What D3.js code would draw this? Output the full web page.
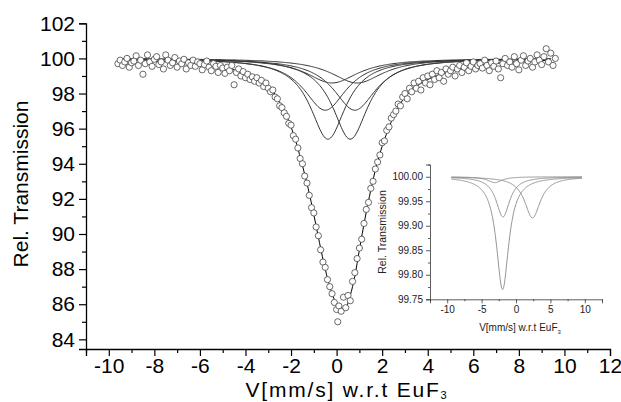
<!DOCTYPE html>
<html>
<head>
<meta charset="utf-8">
<script src="https://cdn.jsdelivr.net/npm/d3@7/dist/d3.min.js"></script>
<style>
  body { margin: 0; background: #fff; }
  svg { display: block; font-family: Arial, "Liberation Sans", sans-serif; }
</style>
</head>
<body>
<svg id="chart"></svg>
<script>
const svgWidth = 621, svgHeight = 402;

// measured spectrum (velocity mm/s, rel. transmission %)
const dataV = [-9.6,-9.5,-9.4,-9.3,-9.2,-9.1,-9.0,-8.9,-8.8,-8.7,-8.6,-8.5,-8.4,-8.3,-8.2,-8.1,-8.0,-7.9,-7.8,-7.7,-7.6,-7.5,-7.4,-7.3,-7.2,-7.1,-7.0,-6.9,-6.8,-6.7,-6.6,-6.5,-6.4,-6.3,-6.2,-6.1,-6.0,-5.9,-5.8,-5.7,-5.6,-5.5,-5.4,-5.3,-5.2,-5.1,-5.0,-4.9,-4.8,-4.7,-4.6,-4.5,-4.4,-4.3,-4.2,-4.1,-4.0,-3.9,-3.8,-3.7,-3.6,-3.5,-3.4,-3.3,-3.2,-3.1,-3.0,-2.9,-2.8,-2.7,-2.6,-2.5,-2.4,-2.3,-2.2,-2.1,-2.0,-1.9,-1.8,-1.7,-1.6,-1.5,-1.4,-1.3,-1.2,-1.1,-1.0,-0.9,-0.8,-0.7,-0.6,-0.5,-0.4,-0.3,-0.2,-0.1,0.0,0.05,0.1,0.2,0.3,0.4,0.5,0.6,0.7,0.8,0.9,1.0,1.1,1.2,1.3,1.4,1.5,1.6,1.7,1.8,1.9,2.0,2.1,2.2,2.3,2.4,2.5,2.6,2.7,2.8,2.9,3.0,3.1,3.2,3.3,3.4,3.5,3.6,3.7,3.8,3.9,4.0,4.1,4.2,4.3,4.4,4.5,4.6,4.7,4.8,4.9,5.0,5.1,5.2,5.3,5.4,5.5,5.6,5.7,5.8,5.9,6.0,6.1,6.2,6.3,6.4,6.5,6.6,6.7,6.8,6.9,7.0,7.1,7.2,7.3,7.4,7.5,7.6,7.7,7.8,7.9,8.0,8.1,8.2,8.3,8.4,8.5,8.6,8.7,8.8,8.9,9.0,9.1,9.2,9.3,9.4,9.5,9.6];
const dataT = [99.7,99.9,99.6,99.8,100.0,99.5,99.75,99.85,100.15,99.6,99.9,99.1,99.7,100.2,99.8,99.55,99.95,100.1,99.65,99.8,99.4,100.2,99.9,99.6,99.75,100.05,99.5,99.85,99.7,99.95,99.4,99.75,99.6,99.9,99.55,99.8,99.7,99.35,99.65,99.85,99.5,99.3,99.7,99.55,99.2,99.6,99.45,99.15,99.5,99.3,99.6,98.5,99.2,99.4,99.0,99.25,98.9,99.1,98.8,98.95,98.7,98.9,98.6,98.75,98.4,98.6,98.3,98.1,98.2,97.8,97.7,97.3,97.2,96.9,96.7,96.3,96.2,95.6,95.4,94.9,94.3,94.0,93.3,92.9,92.2,91.5,91.2,90.4,89.9,89.1,88.4,88.1,87.4,87.0,86.6,86.1,85.7,85.0,85.9,85.6,86.4,85.8,86.5,86.2,87.3,87.8,88.6,89.2,89.7,90.6,91.4,91.8,92.6,93.0,93.7,94.1,94.5,95.2,95.3,95.9,96.1,96.6,96.8,97.0,97.4,97.3,97.8,98.0,97.7,98.3,98.1,98.6,98.3,98.7,98.2,98.9,98.6,99.0,98.5,99.1,98.8,99.3,98.9,99.2,98.7,99.4,99.1,99.3,99.5,99.0,99.4,99.6,99.2,99.5,99.75,99.3,99.55,99.8,99.4,99.6,99.7,99.45,99.9,99.6,99.3,99.75,99.55,99.85,99.4,98.9,99.7,100.0,99.6,99.8,99.5,100.1,99.7,99.35,99.9,100.15,99.6,99.85,100.0,99.5,99.8,100.2,99.9,99.65,100.1,100.55,99.8,100.3,99.6,100.0];

// total fit
const fitV = [-9.45,-8,-7,-6,-5,-4.5,-4,-3.5,-3,-2.5,-2,-1.75,-1.5,-1.25,-1,-0.75,-0.5,-0.25,0,0.2,0.4,0.6,0.8,1.0,1.25,1.5,1.75,2.0,2.25,2.5,3.0,3.5,4,5,6,7,8,9.4];
const fitT = [99.9,99.85,99.8,99.7,99.5,99.35,99.1,98.85,98.45,97.5,96.1,95.1,93.9,92.6,91.1,89.5,88.0,86.8,86.0,85.7,85.8,86.5,87.6,89.1,90.9,92.5,93.9,95.0,95.9,96.7,97.8,98.4,98.8,99.25,99.55,99.72,99.82,99.9];

// sub-spectra (Lorentzian lines): centre, depth, width
const subCentre = [-0.38, 0.6, -0.5, 0.8, -0.2, 0.9];
const subDepth  = [4.6, 4.6, 2.95, 2.95, 1.4, 1.4];
const subWidth  = [1.9, 1.9, 2.3, 2.3, 2.8, 2.8];
const subRange  = [-9.45, 9.4];

// inset sub-spectra
const insCentre = [-1.95, -1.9, 2.4, -3.1];
const insDepth  = [0.23, 0.082, 0.084, 0.012];
const insWidth  = [2.2, 2.4, 2.8, 2.5];
const insRange  = [-9.4, 9.6];

const xTicks = [-10,-8,-6,-4,-2,0,2,4,6,8,10,12];
const yTicks = [84,86,88,90,92,94,96,98,100,102];
const insXTicks = [-10,-5,0,5,10];
const insYTicks = [99.75,99.80,99.85,99.90,99.95,100.00];

const svg = d3.select("#chart").attr("width", svgWidth).attr("height", svgHeight);

const x = d3.scaleLinear().domain([-11, 12]).range([86, 610]);
const y = d3.scaleLinear().domain([83.45, 102]).range([349, 23.3]);

function lorentz(v, c, d, w) {
    const t = (v - c) / (w / 2);
    return d / (1 + t * t);
}

function gridFrom(r, n) {
    return d3.range(n + 1).map(i => r[0] + (r[1] - r[0]) * i / n);
}

// axes
const xAxis = d3.axisBottom(x).tickValues(xTicks).tickSize(7).tickPadding(2).tickFormat(d => String(d));
const gx = svg.append("g").attr("transform", `translate(0,${y.range()[0]})`).call(xAxis);
const xMinor = d3.axisBottom(x).tickValues([-11,-9,-7,-5,-3,-1,1,3,5,7,9,11]).tickSize(4).tickFormat("");
svg.append("g").attr("transform", `translate(0,${y.range()[0]})`).call(xMinor).select(".domain").remove();

const yAxis = d3.axisLeft(y).tickValues(yTicks).tickSize(7).tickPadding(4).tickFormat(d => String(d));
const gy = svg.append("g").attr("transform", `translate(${x.range()[0]},0)`).call(yAxis);
const yMinor = d3.axisLeft(y).tickValues([85,87,89,91,93,95,97,99,101]).tickSize(4).tickFormat("");
svg.append("g").attr("transform", `translate(${x.range()[0]},0)`).call(yMinor).select(".domain").remove();

svg.selectAll(".domain").attr("stroke", "#000").attr("stroke-width", 1.3);
svg.selectAll(".tick line").attr("stroke", "#000").attr("stroke-width", 1.2);
gx.selectAll("text").attr("font-size", 21).attr("fill", "#000");
gy.selectAll("text").attr("font-size", 21).attr("fill", "#000");

svg.append("text")
    .attr("transform", "translate(28,184) rotate(-90)")
    .attr("text-anchor", "middle")
    .attr("font-size", 21)
    .text("Rel. Transmission");

const xTitle = svg.append("text")
    .attr("x", 347).attr("y", 397)
    .attr("text-anchor", "middle")
    .attr("font-size", 21)
    .attr("letter-spacing", 1.8);
xTitle.append("tspan").text("V[mm/s] w.r.t EuF");
xTitle.append("tspan").attr("font-size", 11).attr("dy", 2).text("3");

// sub-spectra
const line = d3.line().x(d => x(d[0])).y(d => y(d[1]));
const grid = gridFrom(subRange, 400);
subCentre.forEach((c, i) => {
    svg.append("path")
        .datum(grid.map(v => [v, 100 - lorentz(v, c, subDepth[i], subWidth[i])]))
        .attr("d", line)
        .attr("fill", "none")
        .attr("stroke", "#333")
        .attr("stroke-width", 1);
});

// total fit
svg.append("path")
    .datum(fitV.map((v, i) => [v, fitT[i]]))
    .attr("d", line.curve(d3.curveMonotoneX))
    .attr("fill", "none")
    .attr("stroke", "#000")
    .attr("stroke-width", 1);

// data points
svg.append("g").selectAll("circle")
    .data(dataV.map((v, i) => [v, dataT[i]]))
    .join("circle")
    .attr("cx", d => x(d[0]))
    .attr("cy", d => y(d[1]))
    .attr("r", 3.1)
    .attr("fill", "#fff")
    .attr("stroke", "#444")
    .attr("stroke-width", 0.8);

// inset
const ix = d3.scaleLinear().domain([-12.5, 12.5]).range([430, 602]);
const iy = d3.scaleLinear().domain([99.75, 100.025]).range([299.3, 164.5]);
const inset = svg.append("g");

const ixAxis = d3.axisBottom(ix).tickValues(insXTicks).tickSize(4).tickPadding(3).tickFormat(d => String(d));
inset.append("g").attr("transform", `translate(0,${iy.range()[0]})`).call(ixAxis);
inset.append("g").attr("transform", `translate(0,${iy.range()[0]})`)
    .call(d3.axisBottom(ix).tickValues([-12.5,-7.5,-2.5,2.5,7.5,12.5]).tickSize(2).tickFormat(""))
    .select(".domain").remove();
const iyAxis = d3.axisLeft(iy).tickValues(insYTicks).tickSize(4).tickPadding(3).tickFormat(d3.format(".2f"));
inset.append("g").attr("transform", `translate(${ix.range()[0]},0)`).call(iyAxis);
inset.append("g").attr("transform", `translate(${ix.range()[0]},0)`)
    .call(d3.axisLeft(iy).tickValues([99.775,99.825,99.875,99.925,99.975,100.025]).tickSize(2).tickFormat(""))
    .select(".domain").remove();
inset.selectAll(".domain").attr("stroke", "#333").attr("stroke-width", 0.8);
inset.selectAll(".tick line").attr("stroke", "#333").attr("stroke-width", 0.8);
inset.selectAll("text").attr("font-size", 10).attr("fill", "#222");

inset.append("text")
    .attr("transform", "translate(386,232) rotate(-90)")
    .attr("text-anchor", "middle")
    .attr("font-size", 10.5)
    .attr("fill", "#222")
    .text("Rel. Transmission");
const ixTitle = inset.append("text")
    .attr("x", 520).attr("y", 331)
    .attr("text-anchor", "middle")
    .attr("font-size", 10)
    .attr("fill", "#222");
ixTitle.append("tspan").text("V[mm/s] w.r.t EuF");
ixTitle.append("tspan").attr("font-size", 6).attr("dy", 3).text("3");

const iline = d3.line().x(d => ix(d[0])).y(d => iy(d[1]));
const igrid = gridFrom(insRange, 300);
insCentre.forEach((c, i) => {
    inset.append("path")
        .datum(igrid.map(v => [v, 100 - lorentz(v, c, insDepth[i], insWidth[i])]))
        .attr("d", iline)
        .attr("fill", "none")
        .attr("stroke", "#888")
        .attr("stroke-width", 0.9);
});
</script>
</body>
</html>
